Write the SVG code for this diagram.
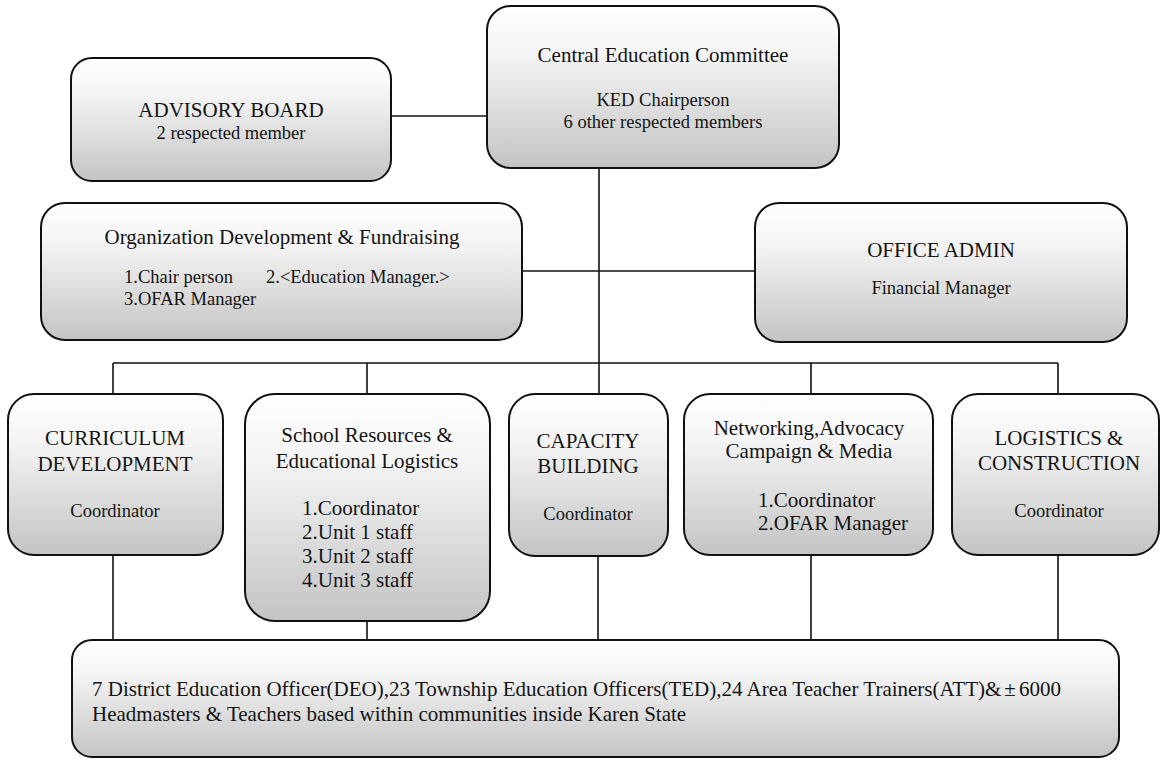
<svg xmlns="http://www.w3.org/2000/svg" width="1162" height="760" viewBox="0 0 1162 760" font-family="'Liberation Serif', 'DejaVu Serif', serif">
  <defs>
    <linearGradient id="boxFill" x1="0" y1="0" x2="0" y2="1">
      <stop offset="0" stop-color="#ffffff"/>
      <stop offset="0.3" stop-color="#f4f4f4"/>
      <stop offset="1" stop-color="#c4c4c4"/>
    </linearGradient>
  </defs>
  <style>
    .box { fill: url(#boxFill); stroke: #111; stroke-width: 2; }
    .link { stroke: #111; stroke-width: 1.6; fill: none; }
    .txt { font-family: 'Liberation Serif', 'DejaVu Serif', serif; fill: #141414; }
    .t { font-size: 21px; text-anchor: middle; }
    .s { font-size: 18.5px; text-anchor: middle; }
    .sl { font-size: 18.5px; }
    .l { font-size: 21px; }
  </style>

  <!-- connectors -->
  <g id="connectors">
    <line class="link" x1="391" y1="116" x2="487" y2="116"/>
    <line class="link" x1="599" y1="168" x2="599" y2="394"/>
    <line class="link" x1="522" y1="271" x2="755" y2="271"/>
    <line class="link" x1="113" y1="363" x2="1058" y2="363"/>
    <line class="link" x1="113" y1="363" x2="113" y2="394"/>
    <line class="link" x1="367" y1="363" x2="367" y2="394"/>
    <line class="link" x1="811" y1="363" x2="811" y2="394"/>
    <line class="link" x1="1058" y1="363" x2="1058" y2="394"/>
    <line class="link" x1="113" y1="555" x2="113" y2="640"/>
    <line class="link" x1="367" y1="621" x2="367" y2="640"/>
    <line class="link" x1="598" y1="556" x2="598" y2="640"/>
    <line class="link" x1="811" y1="555" x2="811" y2="640"/>
    <line class="link" x1="1058" y1="555" x2="1058" y2="640"/>
  </g>

  <g id="advisory-board" class="txt">
    <rect class="box" x="71" y="58" width="320" height="123" rx="21"/>
    <text class="t" x="231" y="117">ADVISORY BOARD</text>
    <text class="s" x="231" y="139">2 respected member</text>
  </g>

  <g id="central-committee" class="txt">
    <rect class="box" x="487" y="6" width="352" height="162" rx="24"/>
    <text class="t" x="663" y="62">Central Education Committee</text>
    <text class="s" x="663" y="106">KED Chairperson</text>
    <text class="s" x="663" y="128">6 other respected members</text>
  </g>

  <g id="org-development" class="txt">
    <rect class="box" x="41" y="203" width="481" height="137" rx="24"/>
    <text class="t" x="282" y="244">Organization Development &amp; Fundraising</text>
    <text class="sl" x="124" y="283">1.Chair person</text>
    <text class="sl" x="266" y="283">2.&lt;Education Manager.&gt;</text>
    <text class="sl" x="124" y="305">3.OFAR Manager</text>
  </g>

  <g id="office-admin" class="txt">
    <rect class="box" x="755" y="203" width="372" height="139" rx="24"/>
    <text class="t" x="941" y="257">OFFICE ADMIN</text>
    <text class="s" x="941" y="294">Financial Manager</text>
  </g>

  <g id="curriculum" class="txt">
    <rect class="box" x="8" y="394" width="215" height="161" rx="26"/>
    <text class="t" x="115" y="445">CURRICULUM</text>
    <text class="t" x="115" y="471">DEVELOPMENT</text>
    <text class="s" x="115" y="517">Coordinator</text>
  </g>

  <g id="school-resources" class="txt">
    <rect class="box" x="245" y="394" width="245" height="227" rx="30"/>
    <text class="t" x="367" y="442">School Resources &amp;</text>
    <text class="t" x="367" y="468">Educational Logistics</text>
    <text class="l" x="302" y="515">1.Coordinator</text>
    <text class="l" x="302" y="539">2.Unit 1 staff</text>
    <text class="l" x="302" y="563">3.Unit 2 staff</text>
    <text class="l" x="302" y="587">4.Unit 3 staff</text>
  </g>

  <g id="capacity-building" class="txt">
    <rect class="box" x="509" y="394" width="159" height="162" rx="26"/>
    <text class="t" x="588" y="448">CAPACITY</text>
    <text class="t" x="588" y="473">BUILDING</text>
    <text class="s" x="588" y="520">Coordinator</text>
  </g>

  <g id="networking" class="txt">
    <rect class="box" x="684" y="394" width="249" height="161" rx="26"/>
    <text class="t" x="809" y="435">Networking,Advocacy</text>
    <text class="t" x="809" y="458">Campaign &amp; Media</text>
    <text class="l" x="758" y="507">1.Coordinator</text>
    <text class="l" x="758" y="530">2.OFAR Manager</text>
  </g>

  <g id="logistics" class="txt">
    <rect class="box" x="952" y="394" width="207" height="161" rx="26"/>
    <text class="t" x="1059" y="445">LOGISTICS &amp;</text>
    <text class="t" x="1059" y="470">CONSTRUCTION</text>
    <text class="s" x="1059" y="517">Coordinator</text>
  </g>

  <g id="field-staff" class="txt">
    <rect class="box" x="72" y="640" width="1047" height="117" rx="20"/>
    <text class="l" x="92" y="696">7 District Education Officer(DEO),23 Township Education Officers(TED),24 Area Teacher Trainers(ATT)&amp;<tspan dx="3">±</tspan><tspan dx="3">6000</tspan></text>
    <text class="l" x="92" y="721">Headmasters &amp; Teachers based within communities inside Karen State</text>
  </g>
</svg>
